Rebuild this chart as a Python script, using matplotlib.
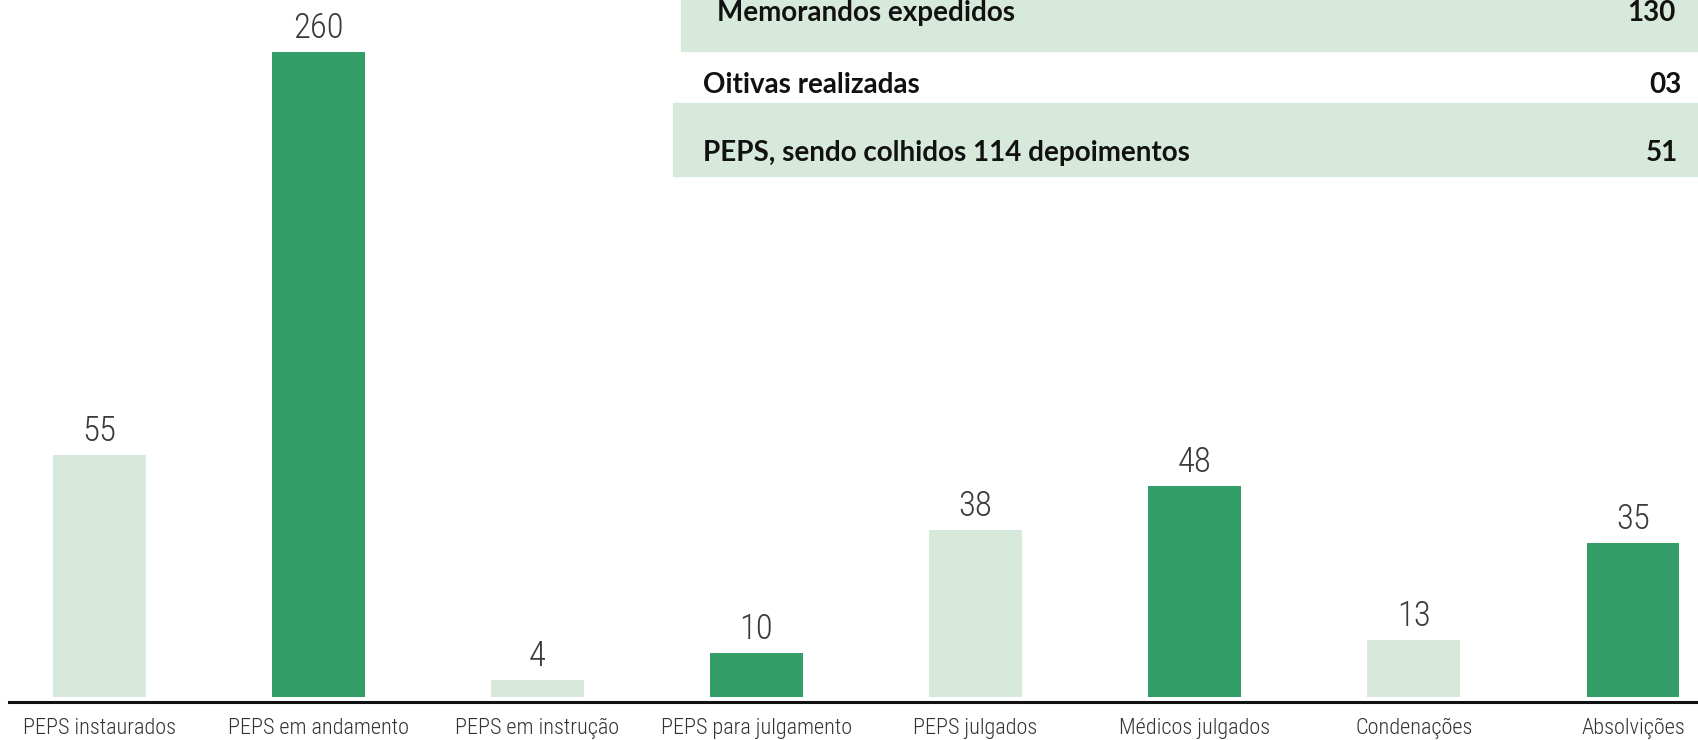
import numpy as np
import matplotlib
matplotlib.use('Agg')
import matplotlib.pyplot as plt
import matplotlib.patches as mpatches
from matplotlib import font_manager as fm

# bar chart data
categories = ['PEPS instaurados', 'PEPS em andamento', 'PEPS em instrução', 'PEPS para julgamento',
              'PEPS julgados', 'Médicos julgados', 'Condenações', 'Absolvições']
values = [55, 260, 4, 10, 38, 48, 13, 35]

# summary table (top right)
table_labels = ['Memorandos expedidos', 'Oitivas realizadas', 'PEPS, sendo colhidos 114 depoimentos']
table_values = ['130', '03', '51']

LIGHT = '#d7e9da'
DARK = '#339e67'
W, H = 1699, 740

names = {f.name for f in fm.fontManager.ttflist}
def pick(*cands):
    return [c for c in cands if c in names] + ['DejaVu Sans']

thin_font = pick('Roboto Condensed', 'Roboto', 'Open Sans')
bold_font = pick('Lato', 'Open Sans', 'Noto Sans')

fig = plt.figure(figsize=(W / 100, H / 100), dpi=100)
ax = fig.add_axes([0, 0.052, 1, 0.948])
ax.set_facecolor('none')

# the 260 bar is drawn broken at the top of the plot area
cap = 146.6
x = np.arange(len(categories))
heights = np.minimum(values, cap)
colors = [LIGHT if i % 2 == 0 else DARK for i in range(len(values))]
ax.bar(x, heights, width=0.424, color=colors, zorder=2)

for xi, h, v in zip(x, heights, values):
    ax.annotate(str(v), (xi, h), xytext=(0, 10), textcoords='offset points',
                ha='center', va='baseline', fontsize=25, color='#3a3a3a',
                family=thin_font, fontweight='light')

ax.set_xlim(-0.452, 7.301)
ax.set_ylim(-1, 158.4)
ax.set_xticks(x)
ax.set_xticklabels(categories, family=thin_font, fontweight='light', fontsize=16, color='#333333')
ax.tick_params(axis='x', length=0, pad=12)
ax.set_yticks([])
for s in ['top', 'right', 'left']:
    ax.spines[s].set_visible(False)
ax.spines['bottom'].set_linewidth(2.2)
ax.spines['bottom'].set_color('#111111')
ax.spines['bottom'].set_bounds(-0.41, 7.301)

# table bands and text, in pixel positions from the top-left
def fx(px):
    return px / W
def fy(py):
    return 1 - py / H

band_rows = [(681, 0, 51), None, (673, 103, 176)]
for b in band_rows:
    if b is None:
        continue
    x0, y0, y1 = b
    fig.add_artist(mpatches.Rectangle((fx(x0), fy(y1)), 1 - fx(x0), (y1 - y0) / H,
                                      transform=fig.transFigure, color=LIGHT, zorder=-1))

label_pos = [(717, 21), (703, 93), (703, 161)]
value_pos = [(1676, 21), (1682, 93), (1678, 161)]
for lab, val, (lx, ly), (vx, vy) in zip(table_labels, table_values, label_pos, value_pos):
    fig.text(fx(lx), fy(ly), lab, ha='left', va='baseline', fontsize=20,
             fontweight='bold', family=bold_font, color='#111111')
    fig.text(fx(vx), fy(vy), val, ha='right', va='baseline', fontsize=20,
             fontweight='bold', family=bold_font, color='#111111')

fig.savefig('out.png', dpi=100)
plt.close(fig)
